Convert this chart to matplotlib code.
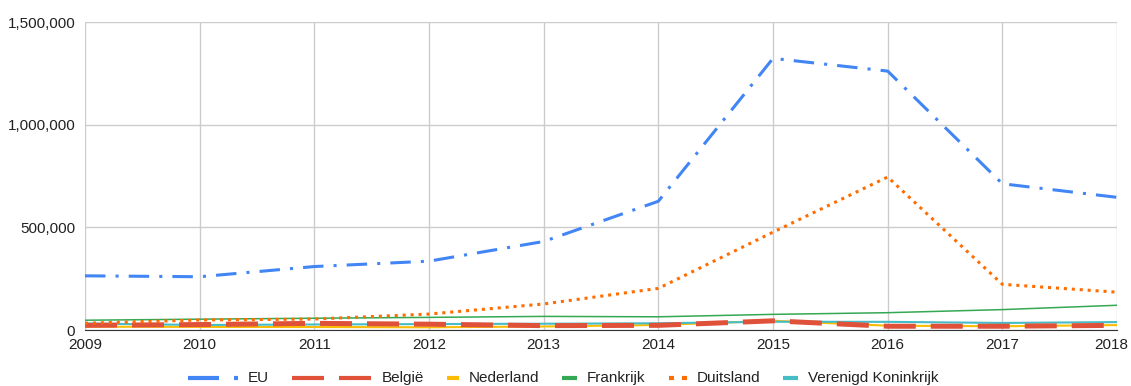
import matplotlib.pyplot as plt
from matplotlib.ticker import FuncFormatter
from matplotlib.lines import Line2D
from matplotlib.transforms import ScaledTranslation

plt.rcParams['font.family'] = ['Liberation Sans', 'DejaVu Sans']

# jaren en asielaanvragen per land
jaren = [2009, 2010, 2011, 2012, 2013, 2014, 2015, 2016, 2017, 2018]
eu = [263835, 259400, 309040, 335290, 431090, 626960, 1322825, 1260910, 712235, 646060]
belgie = [22785, 26560, 32270, 28285, 21215, 22710, 44660, 18280, 18340, 22530]
nederland = [16140, 15100, 14590, 13100, 17160, 24495, 44970, 20945, 18210, 24025]
frankrijk = [47625, 52725, 57330, 61455, 66265, 64310, 76165, 84270, 99330, 120425]
duitsland = [33035, 48590, 53235, 77650, 126705, 202645, 476510, 745155, 222560, 184180]
vk = [31695, 24365, 26915, 28800, 30585, 32785, 40160, 39735, 34355, 38525]

W, H = 1131, 386
fig = plt.figure(figsize=(W / 100, H / 100), dpi=100)
ax = fig.add_axes([85 / W, 56 / H, 1032 / W, 308 / H])

ax.plot(jaren, frankrijk, color='#34a853', lw=1.1, zorder=3)
ax.plot(jaren, nederland, color='#fbbc04', lw=1.5, zorder=3)
ax.plot(jaren, vk, color='#46bdc6', lw=1.5, zorder=3)
ax.plot(jaren, belgie, color='#e0513a', lw=3.6, dashes=(6.4, 3), zorder=4)
ax.plot(jaren, duitsland, color='#ff6d01', lw=2.2, dashes=(1, 1.6), zorder=5)
ax.plot(jaren, eu, color='#4285f4', lw=2.2, dashes=(6.7, 3.3, 1, 3.3), zorder=6)

ax.set_xlim(2009, 2018)
ax.set_ylim(0, 1500000)
ax.set_xticks(jaren)
ax.set_yticks([0, 500000, 1000000, 1500000])
ax.yaxis.set_major_formatter(FuncFormatter(lambda v, p: f'{int(v):,}'))
ax.grid(True, color='#cccccc', lw=1)
ax.set_axisbelow(True)
for s in ['top', 'right', 'left']:
    ax.spines[s].set_visible(False)
ax.spines['bottom'].set_color('#333333')
ax.tick_params(length=0, labelsize=11, colors='#222222')
ax.tick_params(axis='x', pad=6)
ax.tick_params(axis='y', pad=7)
# laatste jaartal iets naar links zodat het niet wordt afgesneden
fig.canvas.draw()
laatste = ax.get_xticklabels()[-1]
laatste.set_transform(laatste.get_transform() + ScaledTranslation(-6 / 100, 0, fig.dpi_scale_trans))

# legenda onderaan, handmatig zodat elke lijn zijn eigen lengte heeft
namen = ['EU', 'België', 'Nederland', 'Frankrijk', 'Duitsland', 'Verenigd Koninkrijk']
kleuren = ['#4285f4', '#e0513a', '#fbbc04', '#34a853', '#ff6d01', '#46bdc6']
stukken = [[(0, 31), (46, 50)], [(0, 32), (47, 79)], [(0, 12)], [(0, 15)],
           [(0, 5), (13, 18)], [(0, 15)]]
ly = 8 / H
renderer = fig.canvas.get_renderer()
teksten = []
for n in namen:
    t = fig.text(0, ly, n, fontsize=11, color='#222222', va='center', ha='left')
    teksten.append(t)
breedtes = [t.get_window_extent(renderer).width for t in teksten]
totaal = sum(s[-1][1] for s in stukken) + 10 * 6 + sum(breedtes) + 23 * 5
x = (W - totaal) / 2 - 2
for t, b, kl, st in zip(teksten, breedtes, kleuren, stukken):
    for a, e in st:
        fig.add_artist(Line2D([(x + a) / W, (x + e) / W], [ly, ly], color=kl, lw=3,
                              solid_capstyle='butt', transform=fig.transFigure))
    x += st[-1][1] + 10
    t.set_x(x / W)
    x += b + 23

fig.savefig('out.png', dpi=100)
